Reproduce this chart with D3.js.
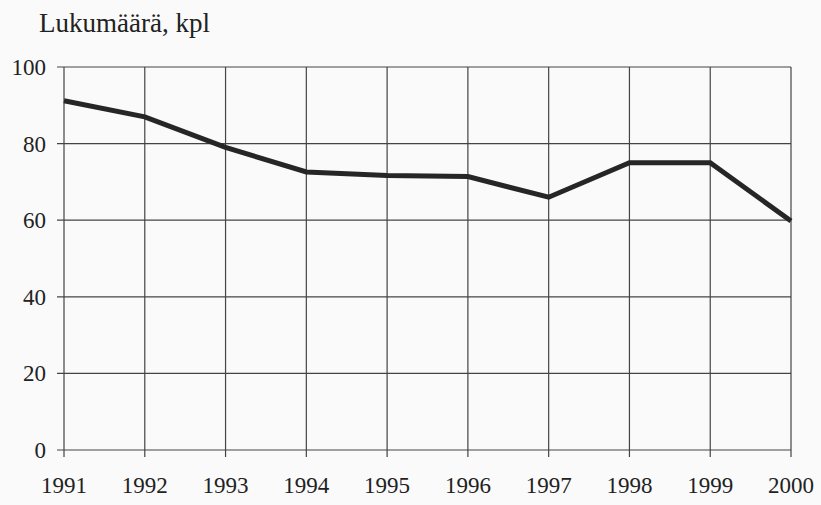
<!DOCTYPE html>
<html><head><meta charset="utf-8">
<script src="https://cdn.jsdelivr.net/npm/d3@7"></script>
<style>body{margin:0;background:#fafafa}svg{display:block}</style>
</head><body>
<svg id="c" width="821" height="505"></svg>
<script>
const years = [1991,1992,1993,1994,1995,1996,1997,1998,1999,2000];
const counts = [91.2,87,79,72.6,71.7,71.4,66,75,75,59.8];
const yTicks = [0,20,40,60,80,100];
const yTitle = "Lukumäärä, kpl";

const svg = d3.select("#c");
svg.append("rect").attr("width",821).attr("height",505).attr("fill","#fafafa");
const L=64,R=791,T=67,B=450;
const x = d3.scaleLinear().domain([1991,2000]).range([L,R]);
const y = d3.scaleLinear().domain([0,100]).range([B,T]);
const font = "'Liberation Serif','Times New Roman',serif";
const gc = "#444";

svg.append("g").selectAll("line").data(yTicks).join("line")
  .attr("x1",L-7).attr("x2",R).attr("y1",d=>y(d)).attr("y2",d=>y(d))
  .attr("stroke",gc).attr("stroke-width",1.2);
svg.append("g").selectAll("line").data(years).join("line")
  .attr("x1",d=>x(d)).attr("x2",d=>x(d)).attr("y1",T).attr("y2",B+7)
  .attr("stroke",gc).attr("stroke-width",1.2);

svg.append("g").selectAll("text").data(yTicks).join("text")
  .attr("x",46).attr("y",d=>y(d)).attr("dy","0.35em").attr("text-anchor","end")
  .attr("font-family",font).attr("font-size",23).attr("fill","#222").text(d=>d);
svg.append("g").selectAll("text").data(years).join("text")
  .attr("x",d=>x(d)).attr("y",493).attr("text-anchor","middle")
  .attr("font-family",font).attr("font-size",23).attr("fill","#222").text(d=>d);

svg.append("text").attr("x",39).attr("y",32).attr("font-family",font)
  .attr("font-size",27).attr("fill","#222").text(yTitle);

const line = d3.line().x((d,i)=>x(years[i])).y(d=>y(d));
svg.append("path").datum(counts).attr("d",line).attr("fill","none")
  .attr("stroke","#262626").attr("stroke-width",5).attr("stroke-linejoin","miter");
</script>
</body></html>
